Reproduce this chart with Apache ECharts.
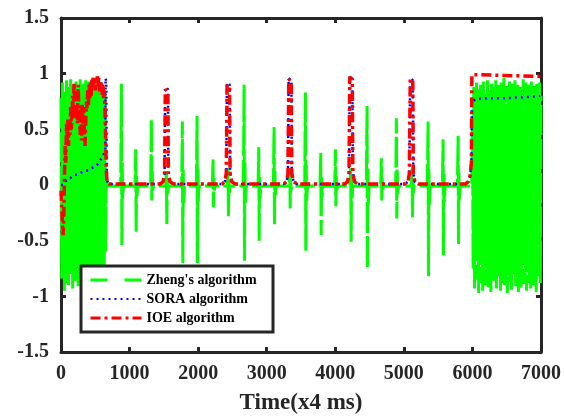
<!DOCTYPE html>
<html>
<head>
<meta charset="utf-8">
<script src="https://cdn.jsdelivr.net/npm/echarts@6/dist/echarts.min.js"></script>
<style>
  html, body { margin: 0; padding: 0; background: #fff; }
  #chart { width: 564px; height: 420px; }
</style>
</head>
<body>
<div id="chart"></div>
<script>
  // x ticks and y ticks
  var xTicks = [0, 1000, 2000, 3000, 4000, 5000, 6000, 7000];
  var yTicks = [-1.5, -1, -0.5, 0, 0.5, 1, 1.5];

  // Zheng's algorithm: dense part at the start, sampled every 10 (x4 ms) from 0
  var zhengHeadStep = 10;
  var zhengHead = [
    0.78, -0.84, 0.92, -0.62, 0.85, -0.95, 0.70, -0.78, 0.94, -0.88,
    0.66, -0.90, 0.88, -0.72, 0.95, -0.80, 0.74, -0.93, 0.90, -0.68,
    0.82, -0.86, 0.93, -0.75, 0.69, -0.91, 0.87, -0.83, 0.95, -0.70,
    0.80, -0.94, 0.91, -0.77, 0.72, -0.88, 0.94, -0.81, 0.85, -0.73,
    0.93, -0.90, 0.76, -0.85, 0.89, -0.79, 0.95, -0.92, 0.71, -0.86,
    0.90, -0.74, 0.83, -0.95, 0.94, -0.82, 0.78, -0.89, 0.92, -0.76,
    0.86, -0.80, 0.88, -0.72, 0.80, -0.60, 0.10
  ];
  // Zheng's algorithm: quiet part with isolated spikes
  var zhengMid = [
    [680, -0.01],
    [870, -0.01], [881, 0.91], [887, -0.54], [893, 0.20], [899, -0.12], [910, -0.01],
    [1080, -0.01], [1090, 0.32], [1096, -0.42], [1102, 0.08], [1108, -0.10], [1120, -0.01],
    [1308, -0.01], [1318, 0.59], [1324, -0.14], [1330, 0.12], [1336, -0.05], [1348, -0.01],
    [1527, -0.01], [1537, 0.12], [1543, -0.35], [1549, 0.06], [1555, -0.08], [1567, -0.01],
    [1760, -0.01], [1770, 0.57], [1776, -0.70], [1782, 0.14], [1788, -0.16], [1800, -0.01],
    [1974, -0.01], [1984, 0.62], [1990, -0.70], [1996, 0.15], [2002, -0.15], [2014, -0.01],
    [2207, -0.01], [2217, 0.23], [2223, -0.20], [2229, 0.06], [2235, -0.05], [2247, -0.01],
    [2426, -0.01], [2436, 0.15], [2442, -0.28], [2448, 0.05], [2454, -0.07], [2466, -0.01],
    [2660, -0.01], [2670, 0.90], [2676, -0.68], [2682, 0.20], [2688, -0.16], [2700, -0.01],
    [2874, -0.01], [2884, 0.34], [2890, -0.50], [2896, 0.08], [2902, -0.12], [2914, -0.01],
    [3097, -0.01], [3107, 0.52], [3113, -0.36], [3119, 0.12], [3125, -0.09], [3137, -0.01],
    [3326, -0.01], [3336, 0.15], [3342, -0.21], [3348, 0.05], [3354, -0.05], [3366, -0.01],
    [3554, -0.01], [3564, 0.83], [3570, -0.59], [3576, 0.18], [3582, -0.14], [3594, -0.01],
    [3778, -0.01], [3788, 0.29], [3794, -0.45], [3800, 0.07], [3806, -0.11], [3818, -0.01],
    [3992, -0.01], [4002, 0.32], [4008, -0.19], [4014, 0.08], [4020, -0.05], [4032, -0.01],
    [4215, -0.01], [4225, 0.15], [4231, -0.51], [4237, 0.05], [4243, -0.12], [4255, -0.01],
    [4453, -0.01], [4463, 0.71], [4469, -0.75], [4475, 0.16], [4481, -0.18], [4493, -0.01],
    [4662, -0.01], [4672, 0.24], [4678, -0.14], [4684, 0.06], [4690, -0.04], [4702, -0.01],
    [4881, -0.01], [4891, 0.60], [4897, -0.30], [4903, 0.14], [4909, -0.08], [4921, -0.01],
    [5110, -0.01], [5120, 0.15], [5126, -0.29], [5132, 0.05], [5138, -0.07], [5150, -0.01],
    [5343, -0.01], [5353, 0.57], [5359, -0.82], [5365, 0.14], [5371, -0.19], [5383, -0.01],
    [5562, -0.01], [5572, 0.41], [5578, -0.63], [5584, 0.10], [5590, -0.15], [5602, -0.01],
    [5781, -0.01], [5791, 0.44], [5797, -0.53], [5803, 0.11], [5809, -0.13], [5821, -0.01],
    [5990, -0.01]
  ];
  // Zheng's algorithm: dense part at the end, sampled every 10 from 6000
  var zhengTailStart = 6000;
  var zhengTailStep = 10;
  var zhengTail = [
    0.55, -0.75, 0.88, -0.93, 0.80, -0.62, 0.92, -0.85, 0.74, -0.97,
    0.86, -0.70, 0.90, -0.88, 0.68, -0.95, 0.93, -0.78, 0.82, -0.90,
    0.77, -0.66, 0.95, -0.92, 0.85, -0.80, 0.72, -0.96, 0.91, -0.74,
    0.88, -0.86, 0.79, -0.58, 0.94, -0.93, 0.83, -0.82, 0.90, -0.70,
    0.76, -0.95, 0.92, -0.88, 0.84, -0.76, 0.96, -0.90, 0.73, -0.84,
    0.89, -0.97, 0.81, -0.72, 0.93, -0.87, 0.78, -0.94, 0.91, -0.80,
    0.86, -0.68, 0.94, -0.91, 0.75, -0.85, 0.90, -0.96, 0.82, -0.78,
    0.88, -0.92, 0.79, -0.62, 0.95, -0.89, 0.84, -0.83, 0.92, -0.95,
    0.77, -0.74, 0.90, -0.88, 0.85, -0.93, 0.93, -0.80, 0.80, -0.90,
    0.89, -0.86, 0.74, -0.96, 0.91, -0.82, 0.86, -0.76, 0.92, -0.88,
    0.80
  ];

  // SORA algorithm
  var sora = [
    [0, 0.0], [30, 0.0], [60, 0.03], [100, 0.05], [150, 0.07], [200, 0.09], [260, 0.10],
    [320, 0.12], [380, 0.13], [440, 0.15], [500, 0.17], [540, 0.19], [580, 0.23], [620, 0.27],
    [645, 0.31], [650, 0.96], [660, 0.93], [668, 0.05], [690, 0.01],
    [1450, 0.01], [1490, 0.03], [1510, 0.10], [1520, 0.88], [1560, 0.86], [1566, 0.12], [1590, 0.03], [1640, 0.01],
    [2350, 0.01], [2390, 0.03], [2410, 0.10], [2420, 0.92], [2460, 0.90], [2466, 0.12], [2490, 0.03], [2540, 0.01],
    [3250, 0.01], [3290, 0.03], [3310, 0.10], [3320, 0.96], [3360, 0.94], [3366, 0.12], [3390, 0.03], [3440, 0.01],
    [4140, 0.01], [4180, 0.03], [4200, 0.10], [4210, 0.98], [4250, 0.96], [4256, 0.12], [4280, 0.03], [4330, 0.01],
    [5020, 0.01], [5060, 0.03], [5080, 0.10], [5092, 0.96], [5132, 0.94], [5138, 0.12], [5160, 0.03], [5210, 0.01],
    [5900, 0.01], [5940, 0.03], [5965, 0.08], [5985, 0.20], [5992, 0.74], [6040, 0.77],
    [6200, 0.78], [6500, 0.78], [6800, 0.79], [6990, 0.80]
  ];

  // IOE algorithm
  var ioe = [
    [0, -0.05], [10, -0.20], [20, -0.35], [30, -0.45], [40, -0.30], [50, 0.05], [60, 0.35],
    [70, 0.20], [80, 0.55], [90, 0.40], [100, 0.60], [110, 0.35], [120, 0.55], [130, 0.45],
    [140, 0.70], [150, 0.50], [160, 0.62], [170, 0.80], [180, 0.60], [190, 0.92], [200, 0.75],
    [210, 0.85], [220, 0.60], [230, 0.72], [240, 0.55], [250, 0.90], [260, 0.70], [270, 0.62],
    [280, 0.45], [290, 0.68], [300, 0.40], [310, 0.72], [320, 0.55], [330, 0.70], [340, 0.50],
    [350, 0.35], [360, 0.55], [370, 0.75], [380, 0.68], [390, 0.85], [400, 0.72], [410, 0.90],
    [420, 0.78], [430, 0.92], [440, 0.80], [450, 0.96], [460, 0.88], [470, 0.98], [480, 0.90],
    [490, 0.96], [500, 0.85], [510, 0.98], [520, 0.92], [530, 0.99], [540, 0.90], [550, 0.96],
    [560, 0.84], [570, 0.93], [580, 0.88], [590, 0.92], [600, 0.80], [610, 0.90], [620, 0.78],
    [630, 0.85], [640, 0.70], [650, 0.45], [660, 0.15], [670, 0.02], [700, 0.01],
    [1450, 0.01], [1490, 0.03], [1510, 0.10], [1522, 0.86], [1558, 0.84], [1566, 0.10], [1590, 0.03], [1640, 0.01],
    [2350, 0.01], [2390, 0.03], [2410, 0.10], [2422, 0.90], [2458, 0.88], [2466, 0.10], [2490, 0.03], [2540, 0.01],
    [3250, 0.01], [3290, 0.03], [3310, 0.10], [3322, 0.95], [3358, 0.93], [3366, 0.10], [3390, 0.03], [3440, 0.01],
    [4140, 0.01], [4180, 0.03], [4200, 0.10], [4212, 0.97], [4248, 0.95], [4256, 0.10], [4280, 0.03], [4330, 0.01],
    [5020, 0.01], [5060, 0.03], [5080, 0.10], [5094, 0.955], [5130, 0.94], [5138, 0.10], [5160, 0.03], [5210, 0.01],
    [5900, 0.01], [5940, 0.03], [5965, 0.08], [5985, 0.20], [5992, 0.99], [6100, 0.99],
    [6400, 0.985], [6700, 0.98], [6990, 0.975]
  ];

  var zheng = [];
  zhengHead.forEach(function (v, i) { zheng.push([i * zhengHeadStep, v]); });
  zhengMid.forEach(function (p) { zheng.push(p); });
  zhengTail.forEach(function (v, i) { zheng.push([zhengTailStart + i * zhengTailStep, v]); });

  var axisColor = '#262626';
  var labelFont = {
    color: axisColor,
    fontFamily: 'Liberation Serif',
    fontWeight: 'bold',
    fontSize: 20
  };

  function plain(v) { return String(v); }

  function xAxisCfg(pos, showLabel) {
    return {
      type: 'value',
      position: pos,
      min: xTicks[0],
      max: xTicks[xTicks.length - 1],
      interval: 1000,
      axisLine: { onZero: false, lineStyle: { color: axisColor, width: 3 } },
      axisTick: { inside: true, length: 5, lineStyle: { color: axisColor, width: 3 } },
      axisLabel: Object.assign({ show: showLabel, margin: 12, formatter: plain }, labelFont),
      splitLine: { show: false }
    };
  }

  function yAxisCfg(pos, showLabel) {
    return {
      type: 'value',
      position: pos,
      min: yTicks[0],
      max: yTicks[yTicks.length - 1],
      interval: 0.5,
      axisLine: { onZero: false, lineStyle: { color: axisColor, width: 3 } },
      axisTick: { inside: true, length: 5, lineStyle: { color: axisColor, width: 3 } },
      axisLabel: Object.assign({ show: showLabel, margin: 12, formatter: plain }, labelFont),
      splitLine: { show: false }
    };
  }

  var chart = echarts.init(document.getElementById('chart'));
  var xBottom = xAxisCfg('bottom', true);
  xBottom.name = 'Time(x4 ms)';
  xBottom.nameLocation = 'middle';
  xBottom.nameGap = 40;
  xBottom.nameTextStyle = {
    color: axisColor,
    fontFamily: 'Liberation Serif',
    fontWeight: 'bold',
    fontSize: 23
  };

  var option = {
    animation: false,
    backgroundColor: '#fff',
    grid: { left: 61, right: 23, top: 18, bottom: 66 },
    xAxis: [xBottom, xAxisCfg('top', false)],
    yAxis: [yAxisCfg('left', true), yAxisCfg('right', false)],
    graphic: [{
      type: 'rect',
      z: 50,
      shape: { x: 81, y: 266, width: 192, height: 66 },
      style: { fill: '#fff', stroke: axisColor, lineWidth: 3 }
    }],
    legend: {
      z: 60,
      orient: 'vertical',
      left: 84,
      top: 268,
      itemWidth: 51,
      itemHeight: 14,
      itemGap: 5,
      itemStyle: { opacity: 0 },
      textStyle: {
        color: '#000',
        fontFamily: 'Liberation Serif',
        fontWeight: 'bold',
        fontSize: 14
      },
      data: [
        { name: "Zheng's algorithm", lineStyle: { type: [17, 17], width: 3 } },
        { name: 'SORA algorithm' },
        { name: 'IOE algorithm', lineStyle: { type: [10, 4, 3, 4], width: 3 } }
      ]
    },
    series: [
      {
        name: "Zheng's algorithm",
        type: 'line',
        symbol: 'none',
        color: '#00ff00',
        lineStyle: { color: '#00ff00', width: 3, type: [30, 4] },
        data: zheng
      },
      {
        name: 'SORA algorithm',
        type: 'line',
        symbol: 'none',
        color: '#0000ff',
        lineStyle: { color: '#0000ff', width: 2.5, type: [2, 4] },
        data: sora
      },
      {
        name: 'IOE algorithm',
        type: 'line',
        symbol: 'none',
        color: '#ff0000',
        lineStyle: { color: '#ff0000', width: 3.5, type: [10, 4, 3, 4] },
        data: ioe
      }
    ]
  };
  chart.setOption(option);
</script>
</body>
</html>
